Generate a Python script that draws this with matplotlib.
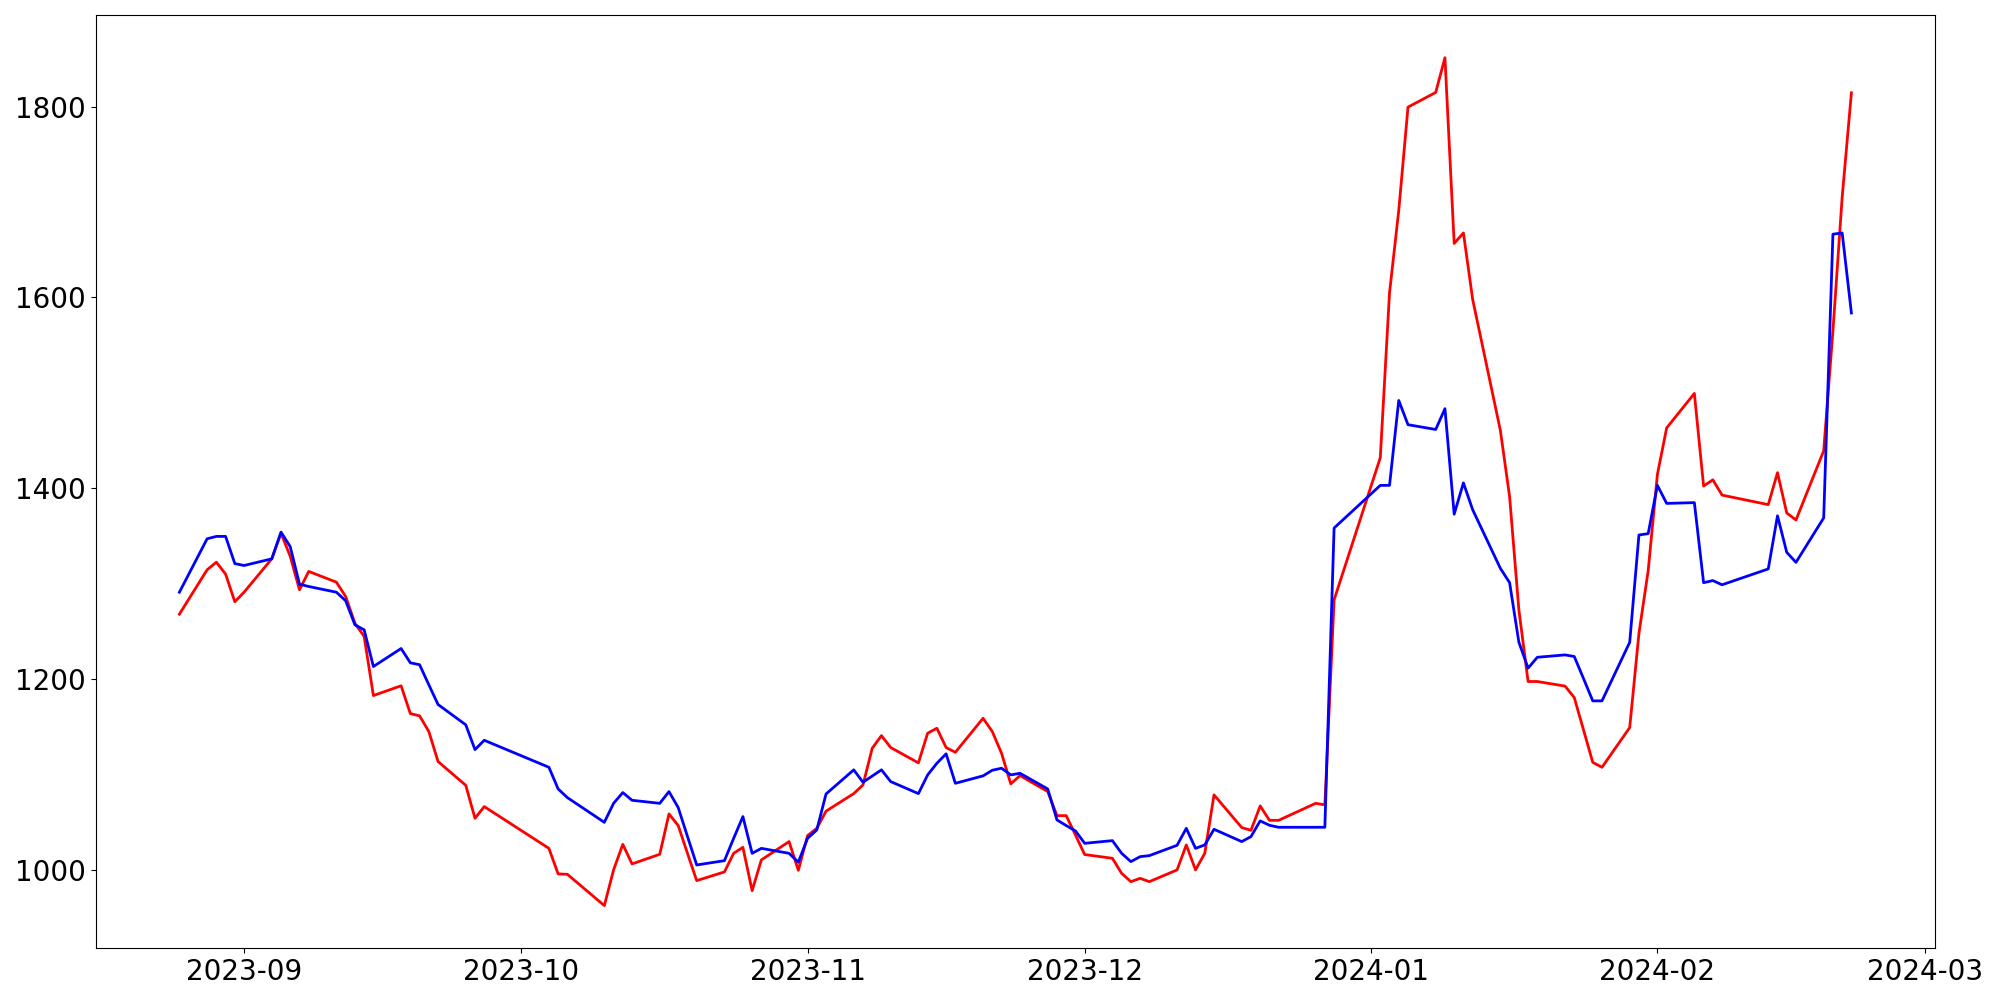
import matplotlib
matplotlib.use("Agg")
import matplotlib.pyplot as plt
import pandas as pd

# Trading calendar (business days, market holidays removed)
start_date = "2023-08-25"
end_date = "2024-02-22"
holidays = ["2023-09-28", "2023-09-29", "2023-10-02", "2023-10-03", "2023-10-09",
            "2023-12-25", "2023-12-29", "2024-01-01", "2024-02-09", "2024-02-12"]

red_values = [
    # Aug 25 - Sep 27
    1268, 1314.5, 1322.5, 1310, 1281, 1291, 1326, 1353, 1328.5, 1293.6, 1312.8, 1301.5,
    1286.5, 1258.5, 1244.6, 1182.7, 1192.9, 1163.8, 1161.4, 1145, 1113.5, 1088.6, 1054, 1066.3,
    # Oct
    1022.5, 995.7, 995.3, 962.5, 999.9, 1026.7, 1006.2, 1016.3, 1058.6, 1046.4, 1017.3, 988.7,
    997.8, 1017.3, 1023.6, 978.2, 1010.4, 1029.6, 999.5,
    # Nov
    1035.9, 1043.5, 1061.5, 1079.9, 1089, 1127.4, 1140.7, 1128.2, 1112.1, 1143.2, 1148.4,
    1128.2, 1123.2, 1158.9, 1144.9, 1122.2, 1090.1, 1098.8, 1082, 1056.8, 1056.8, 1036.6,
    # Dec
    1016, 1012.1, 996.3, 987.6, 991.1, 987.6, 999.9, 1026.1, 999.9, 1017.3, 1078.6, 1044.3,
    1041.4, 1067, 1051.9, 1051.9, 1069.7, 1068.1, 1283,
    # Jan
    1432, 1604.8, 1691.3, 1799.5, 1814.9, 1851.3, 1656.6, 1667.6, 1598, 1460.6, 1391.1,
    1272.8, 1197.4, 1197.4, 1192.6, 1180.6, 1146.7, 1112.7, 1107.5, 1149.1, 1247.8, 1313.5,
    # Feb
    1414.5, 1463.2, 1499.4, 1402.3, 1408.8, 1392.8, 1382.8, 1416.3, 1374.1, 1366.7, 1439.2,
    1565, 1705, 1814.5,
]

blue_values = [
    # Aug 25 - Sep 27
    1291, 1347, 1349.5, 1349.5, 1321, 1319, 1326, 1354, 1338.7, 1299.4, 1297, 1291,
    1282, 1256.8, 1251.6, 1213.1, 1232, 1217, 1215, 1194, 1173.3, 1152, 1126, 1135.8,
    # Oct
    1107.5, 1084.8, 1075.7, 1049.8, 1069.7, 1081, 1072.9, 1069.7, 1082, 1065.2, 1035, 1005.1,
    1009.6, 1033, 1055.8, 1017.3, 1022.5, 1017.3, 1008,
    # Nov
    1033, 1041.8, 1079.5, 1104.8, 1091.8, 1098.3, 1104.8, 1092.5, 1079.9, 1099.5, 1111.7,
    1121.6, 1090.7, 1098.5, 1104.4, 1106.5, 1099.5, 1101.2, 1084.8, 1052.3, 1046.4, 1040.8,
    # Dec
    1027.8, 1030.6, 1017.3, 1008.6, 1013.8, 1014.9, 1025.7, 1043.5, 1022.5, 1026.1, 1042.5,
    1029.6, 1034.8, 1051.3, 1046.7, 1044.6, 1044.6, 1044.6, 1358.3,
    # Jan
    1403, 1403, 1492, 1466.6, 1461.6, 1483.4, 1372.8, 1405.6, 1377.5, 1316, 1301,
    1238.7, 1211.4, 1222.8, 1225.3, 1223.6, 1200.5, 1177.1, 1177.1, 1238.5, 1351, 1352.4,
    # Feb
    1403, 1384.1, 1384.9, 1301, 1303.2, 1298.8, 1315.4, 1371.1, 1332.8, 1322.3, 1368.9,
    1666.3, 1667.6, 1583.7,
]

dates = pd.bdate_range(start_date, end_date)
dates = dates[~dates.isin(pd.to_datetime(holidays))]

fig = plt.figure(figsize=(20, 10), dpi=100)
ax = fig.add_axes([0.0479, 0.052, 0.9196, 0.9327])
ax.plot(dates, red_values, color="red", linewidth=2)
ax.plot(dates, blue_values, color="blue", linewidth=2)
ax.tick_params(axis="both", labelsize=20)
fig.savefig("out.png", dpi=100)
